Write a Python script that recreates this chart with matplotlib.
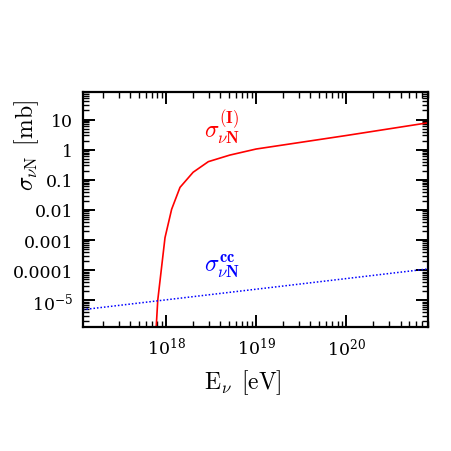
import numpy as np
import matplotlib
matplotlib.use("Agg")
import matplotlib.pyplot as plt
from matplotlib.ticker import FixedLocator, LogLocator, NullFormatter

plt.rcParams.update({
    "font.family": "serif",
    "font.serif": ["DejaVu Serif"],
    "mathtext.fontset": "dejavuserif",
})

# ----------------------------
# Data
# ----------------------------
E_inst = [7.75e17, 8.1e17, 9.75e17, 1.155e18, 1.43e18, 2.0e18, 2.95e18, 5.1e18, 1.0e19, 1.0e20, 8.07e20]
sigma_inst = [1.0e-6, 1.0e-5, 1.2e-3, 1.05e-2, 5.6e-2, 0.178, 0.40, 0.66, 1.05, 2.95, 7.8]

E_cc = [1.2e17, 8.07e20]
sigma_cc = [4.9e-6, 1.1e-4]

y_ticks = [10, 1, 0.1, 0.01, 0.001, 0.0001, 1e-5]
y_ticklabels = ["10", "1", "0.1", "0.01", "0.001", "0.0001", r"10$^{-5}$"]
x_ticks = [1e18, 1e19, 1e20]
x_ticklabels = [r"10$^{18}$", r"10$^{19}$", r"10$^{20}$"]

# ----------------------------
# Plot
# ----------------------------
fig = plt.figure(figsize=(4.52, 4.52), dpi=100)
ax = fig.add_axes([83 / 452, 1 - 328 / 452, 345 / 452, 235 / 452])

ax.plot(E_inst, sigma_inst, color="#ff0000", lw=1.2)
ax.plot(E_cc, sigma_cc, color="#0000ff", lw=1.1, ls=(0, (1, 1.3)))

ax.set_xscale("log")
ax.set_yscale("log")
ax.set_xlim(1.2e17, 8.07e20)
ax.set_ylim(1.3e-6, 82)

ax.yaxis.set_major_locator(FixedLocator(y_ticks))
ax.set_yticklabels(y_ticklabels)
ax.yaxis.set_minor_locator(LogLocator(base=10, subs=np.arange(2, 10), numticks=20))
ax.yaxis.set_minor_formatter(NullFormatter())
ax.xaxis.set_major_locator(FixedLocator(x_ticks))
ax.set_xticklabels(x_ticklabels)
ax.xaxis.set_minor_locator(LogLocator(base=10, subs=np.arange(2, 10), numticks=20))
ax.xaxis.set_minor_formatter(NullFormatter())

ax.tick_params(which="both", direction="in", top=True, right=True, labelsize=12.5, color="black")
ax.tick_params(which="major", length=8.5, width=1.4, pad=7)
ax.tick_params(which="minor", length=4.5, width=1.0)
for s in ax.spines.values():
    s.set_linewidth(1.6)

# curve labels
fig.text(222 / 452, 1 - 128 / 452, r"$\sigma^{\mathbf{(I)}}_{\nu\mathbf{N}}$", math_fontfamily="cm",
         color="#ff0000", fontsize=17, ha="center", va="center")
fig.text(222 / 452, 1 - 266 / 452, r"$\sigma^{\mathbf{cc}}_{\nu\mathbf{N}}$", math_fontfamily="cm",
         color="#0000ff", fontsize=17, ha="center", va="center")

# axis labels
fig.text(27 / 452, 1 - 146 / 452, r"$\sigma_{\nu \mathrm{N}}\ \,[\mathrm{mb}]$", math_fontfamily="cm",
         rotation=90, ha="center", va="center", fontsize=17)
fig.text(243 / 452, 1 - 383 / 452, r"$\mathrm{E}_{\nu}\ \,[\mathrm{eV}]$", math_fontfamily="cm",
         ha="center", va="center", fontsize=17)

fig.savefig("out.png", dpi=100)
